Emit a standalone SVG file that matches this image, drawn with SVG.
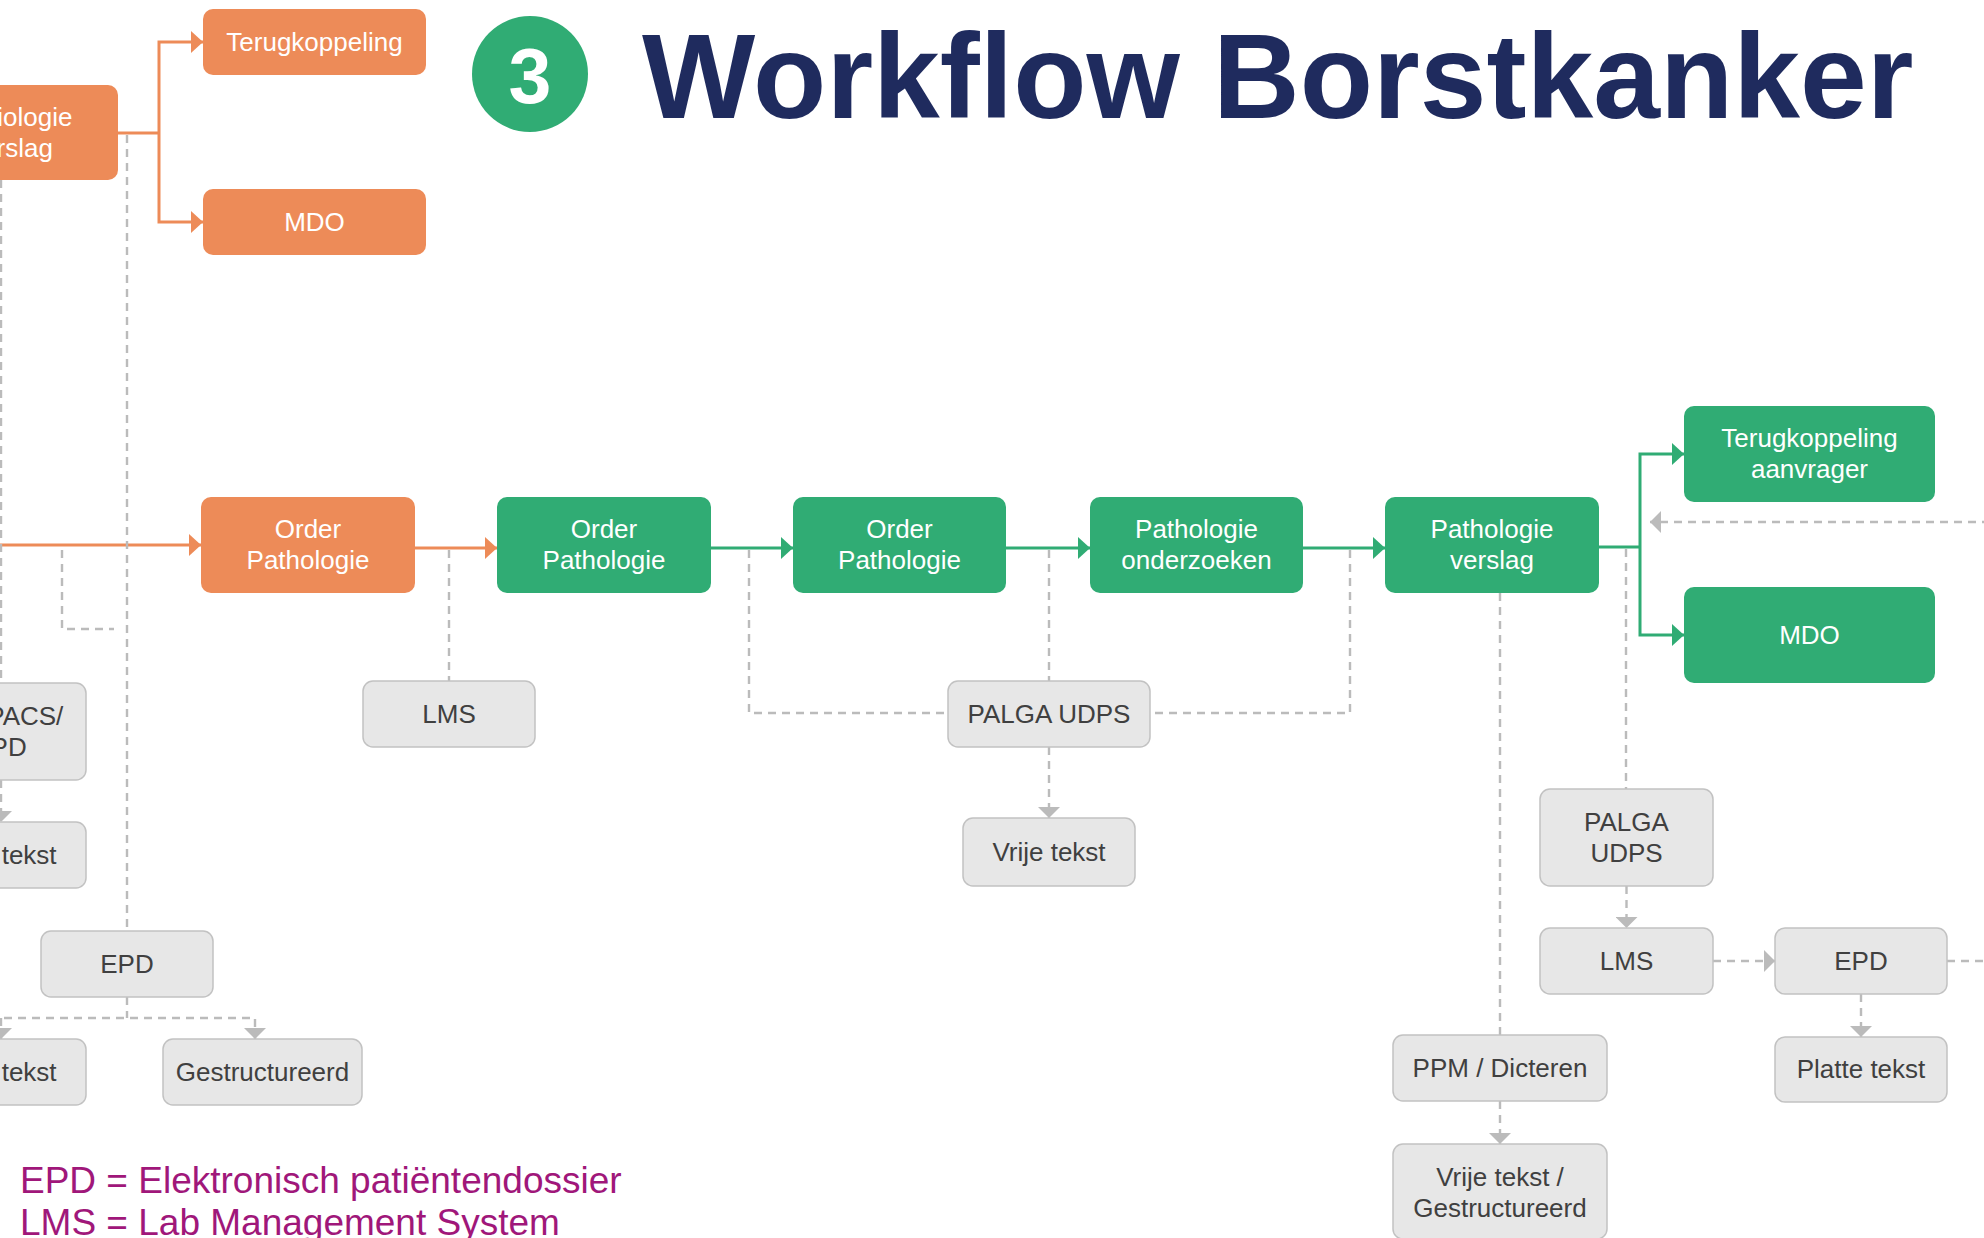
<svg xmlns="http://www.w3.org/2000/svg" width="1984" height="1238" viewBox="0 0 1984 1238">
<style>
text{font-family:"Liberation Sans",Arial,sans-serif}
.or{fill:#ED8B58}
.gr{fill:#30AC74}
.gy{fill:#E7E7E7;stroke:#C2C2C2;stroke-width:1.5}
.tw{fill:#FFFFFF;font-size:26px;text-anchor:middle}
.tg{fill:#404040;font-size:26px;text-anchor:middle}
.co{fill:none;stroke:#ED8B58;stroke-width:3}
.cg{fill:none;stroke:#30AC74;stroke-width:3}
.cd{fill:none;stroke:#BBBBBB;stroke-width:2.4;stroke-dasharray:8 6}
.leg{fill:#A0177A;font-size:37px}
</style>
<defs>
<marker id="ao" markerWidth="12" markerHeight="22" refX="12" refY="11" orient="auto" markerUnits="userSpaceOnUse"><path d="M0,0 L12,11 L0,22 Z" fill="#ED8B58"/></marker>
<marker id="ag" markerWidth="12" markerHeight="22" refX="12" refY="11" orient="auto" markerUnits="userSpaceOnUse"><path d="M0,0 L12,11 L0,22 Z" fill="#30AC74"/></marker>
<marker id="ad" markerWidth="11" markerHeight="22" refX="11" refY="11" orient="auto" markerUnits="userSpaceOnUse"><path d="M0,0 L11,11 L0,22 Z" fill="#BBBBBB"/></marker>
</defs>
<rect width="1984" height="1238" fill="#FFFFFF"/>

<g id="title">
<circle cx="530" cy="74" r="58" fill="#30AC74"/>
<text x="530" y="103" font-size="77" font-weight="bold" fill="#FFFFFF" text-anchor="middle">3</text>
<text x="642" y="118" font-size="120" font-weight="bold" fill="#1F2B5E">Workflow Borstkanker</text>
</g>

<g id="connectors">
<path class="co" d="M118,133 H159"/>
<path class="co" d="M159,133 V42 H203" marker-end="url(#ao)"/>
<path class="co" d="M159,133 V222 H203" marker-end="url(#ao)"/>
<path class="co" d="M0,545 H201" marker-end="url(#ao)"/>
<path class="co" d="M415,548 H497" marker-end="url(#ao)"/>
<path class="cg" d="M711,548 H793" marker-end="url(#ag)"/>
<path class="cg" d="M1006,548 H1090" marker-end="url(#ag)"/>
<path class="cg" d="M1303,548 H1385" marker-end="url(#ag)"/>
<path class="cg" d="M1599,547 H1640"/>
<path class="cg" d="M1640,547 V454 H1684" marker-end="url(#ag)"/>
<path class="cg" d="M1640,547 V635 H1684" marker-end="url(#ag)"/>

<path class="cd" d="M1,180 V683"/>
<path class="cd" d="M1,780 V822" marker-end="url(#ad)"/>
<path class="cd" d="M127,135 V931"/>
<path class="cd" d="M62,550 V629 H114"/>
<path class="cd" d="M127,997 V1018"/>
<path class="cd" d="M-10,1018 H255 V1039" marker-end="url(#ad)"/>
<path class="cd" d="M1,1018 V1039" marker-end="url(#ad)"/>
<path class="cd" d="M449,550 V681"/>
<path class="cd" d="M749,550 V713 H948"/>
<path class="cd" d="M1049,550 V681"/>
<path class="cd" d="M1350,550 V713 H1150"/>
<path class="cd" d="M1049,747 V818" marker-end="url(#ad)"/>
<path class="cd" d="M1500,593 V1035"/>
<path class="cd" d="M1626,549 V789"/>
<path class="cd" d="M1626.5,886 V928" marker-end="url(#ad)"/>
<path class="cd" d="M1713,961 H1775" marker-end="url(#ad)"/>
<path class="cd" d="M1947,961 H1990"/>
<path class="cd" d="M1861,994 V1037" marker-end="url(#ad)"/>
<path class="cd" d="M1500,1101 V1144" marker-end="url(#ad)"/>
<path class="cd" d="M1990,522 H1650" marker-end="url(#ad)"/>
</g>

<g id="n-radiologie-verslag"><rect class="or" x="-96" y="85" width="214" height="95" rx="10"/><text class="tw" x="11" y="126">Radiologie</text><text class="tw" x="11" y="157">verslag</text></g>
<g id="n-terugkoppeling-rad"><rect class="or" x="203" y="9" width="223" height="66" rx="10"/><text class="tw" x="314.5" y="51">Terugkoppeling</text></g>
<g id="n-mdo-rad"><rect class="or" x="203" y="189" width="223" height="66" rx="10"/><text class="tw" x="314.5" y="231">MDO</text></g>
<g id="n-order-pathologie-1"><rect class="or" x="201" y="497" width="214" height="96" rx="10"/><text class="tw" x="308" y="538">Order</text><text class="tw" x="308" y="569">Pathologie</text></g>

<g id="n-order-pathologie-2"><rect class="gr" x="497" y="497" width="214" height="96" rx="10"/><text class="tw" x="604" y="538">Order</text><text class="tw" x="604" y="569">Pathologie</text></g>
<g id="n-order-pathologie-3"><rect class="gr" x="793" y="497" width="213" height="96" rx="10"/><text class="tw" x="899.5" y="538">Order</text><text class="tw" x="899.5" y="569">Pathologie</text></g>
<g id="n-pathologie-onderzoeken"><rect class="gr" x="1090" y="497" width="213" height="96" rx="10"/><text class="tw" x="1196.5" y="538">Pathologie</text><text class="tw" x="1196.5" y="569">onderzoeken</text></g>
<g id="n-pathologie-verslag"><rect class="gr" x="1385" y="497" width="214" height="96" rx="10"/><text class="tw" x="1492" y="538">Pathologie</text><text class="tw" x="1492" y="569">verslag</text></g>
<g id="n-terugkoppeling-aanvrager"><rect class="gr" x="1684" y="406" width="251" height="96" rx="10"/><text class="tw" x="1809.5" y="447">Terugkoppeling</text><text class="tw" x="1809.5" y="478">aanvrager</text></g>
<g id="n-mdo-path"><rect class="gr" x="1684" y="587" width="251" height="96" rx="10"/><text class="tw" x="1809.5" y="644">MDO</text></g>

<g id="n-pacs-epd"><rect class="gy" x="-86" y="683" width="172" height="97" rx="10"/><text class="tg" x="0" y="725">RIS/PACS/</text><text class="tg" x="0" y="756">EPD</text></g>
<g id="n-vrije-tekst-rad1"><rect class="gy" x="-86" y="822" width="172" height="66" rx="10"/><text class="tg" x="0" y="864">Vrije tekst</text></g>
<g id="n-epd-rad"><rect class="gy" x="41" y="931" width="172" height="66" rx="10"/><text class="tg" x="127" y="973">EPD</text></g>
<g id="n-vrije-tekst-rad2"><rect class="gy" x="-86" y="1039" width="172" height="66" rx="10"/><text class="tg" x="0" y="1081">Vrije tekst</text></g>
<g id="n-gestructureerd-rad"><rect class="gy" x="163" y="1039" width="199" height="66" rx="10"/><text class="tg" x="262.5" y="1081">Gestructureerd</text></g>
<g id="n-lms-1"><rect class="gy" x="363" y="681" width="172" height="66" rx="10"/><text class="tg" x="449" y="723">LMS</text></g>
<g id="n-palga-udps-1"><rect class="gy" x="948" y="681" width="202" height="66" rx="10"/><text class="tg" x="1049" y="723">PALGA UDPS</text></g>
<g id="n-vrije-tekst-1"><rect class="gy" x="963" y="818" width="172" height="68" rx="10"/><text class="tg" x="1049" y="861">Vrije tekst</text></g>
<g id="n-palga-udps-2"><rect class="gy" x="1540" y="789" width="173" height="97" rx="10"/><text class="tg" x="1626.5" y="831">PALGA</text><text class="tg" x="1626.5" y="862">UDPS</text></g>
<g id="n-lms-2"><rect class="gy" x="1540" y="928" width="173" height="66" rx="10"/><text class="tg" x="1626.5" y="970">LMS</text></g>
<g id="n-epd-path"><rect class="gy" x="1775" y="928" width="172" height="66" rx="10"/><text class="tg" x="1861" y="970">EPD</text></g>
<g id="n-platte-tekst"><rect class="gy" x="1775" y="1037" width="172" height="65" rx="10"/><text class="tg" x="1861" y="1078">Platte tekst</text></g>
<g id="n-ppm-dicteren"><rect class="gy" x="1393" y="1035" width="214" height="66" rx="10"/><text class="tg" x="1500" y="1077">PPM / Dicteren</text></g>
<g id="n-vrije-gestructureerd"><rect class="gy" x="1393" y="1144" width="214" height="95" rx="10"/><text class="tg" x="1500" y="1186">Vrije tekst /</text><text class="tg" x="1500" y="1217">Gestructureerd</text></g>

<g id="legend">
<text class="leg" x="20" y="1193">EPD = Elektronisch patiëntendossier</text>
<text class="leg" x="20" y="1235">LMS = Lab Management System</text>
</g>
</svg>
